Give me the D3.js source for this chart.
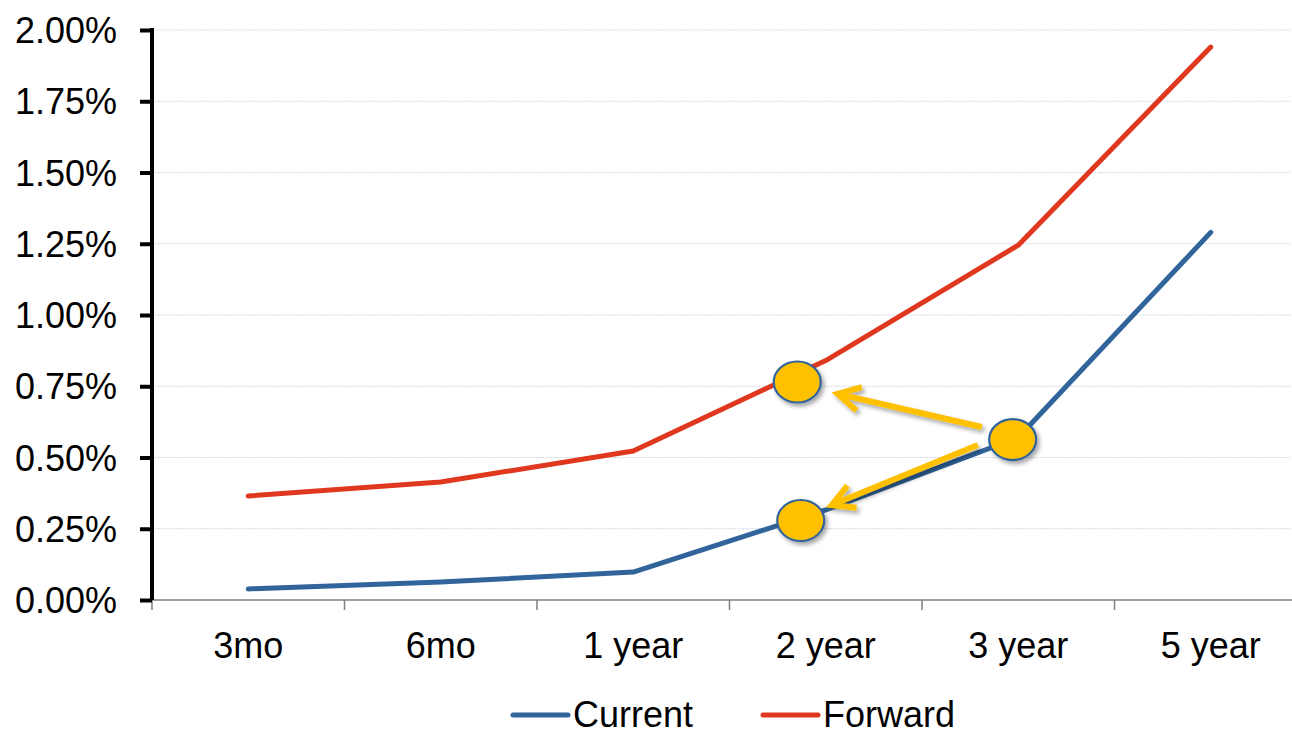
<!DOCTYPE html>
<html>
<head>
<meta charset="utf-8">
<script src="https://cdn.jsdelivr.net/npm/d3@7"></script>
<style>
  html, body { margin: 0; padding: 0; background: #fff; }
  svg { display: block; font-family: "Liberation Sans", Arial, sans-serif; }
</style>
</head>
<body>
<svg id="chart" width="1292" height="734"></svg>
<script>
// Yield curve: current vs forward rates by maturity (percent)
const maturities = ["3mo", "6mo", "1 year", "2 year", "3 year", "5 year"];
const currentRates = [0.039, 0.063, 0.098, 0.316, 0.57, 1.29];
const forwardRates = [0.365, 0.414, 0.523, 0.84, 1.245, 1.94];
const yTicks = [0, 0.25, 0.5, 0.75, 1.0, 1.25, 1.5, 1.75, 2.0];

// Highlight markers: maturity, offset in bands from its centre, rate
const markers = [
  { cat: "2 year", off: -0.148, v: 0.765 },
  { cat: "3 year", off: -0.029, v: 0.563 },
  { cat: "2 year", off: -0.13, v: 0.279 }
];
// Arrows pointing from the 3-year marker toward the 2-year markers
const arrows = [
  { from: { cat: "3 year", off: -0.19, v: 0.607 }, to: { cat: "2 year", off: 0.062, v: 0.723 } },
  { from: { cat: "3 year", off: -0.21, v: 0.544 }, to: { cat: "2 year", off: 0.031, v: 0.333 } }
];

const series = [
  { name: "Current", values: currentRates, color: "#30649b" },
  { name: "Forward", values: forwardRates, color: "#e0381e" }
];

(function draw() {
  const svg = d3.select("#chart");
  const plotLeft = 152, plotTop = 30, plotBottom = 600, bandW = 192.5;
  const fontSize = 36;

  const x = d3.scaleBand().domain(maturities).range([plotLeft, plotLeft + bandW * maturities.length]);
  const y = d3.scaleLinear().domain([0, 2]).range([plotBottom, plotTop]);
  const cx = (cat, off = 0) => x(cat) + x.bandwidth() * (0.5 + off);

  const defs = svg.append("defs");
  const shadow = defs.append("filter").attr("id", "shadow")
    .attr("x", "-30%").attr("y", "-30%").attr("width", "170%").attr("height", "170%");
  shadow.append("feDropShadow").attr("dx", 2.5).attr("dy", 3).attr("stdDeviation", 2)
    .attr("flood-color", "#000").attr("flood-opacity", 0.35);

  // Horizontal gridlines
  svg.append("g").selectAll("line").data(yTicks.filter(d => d > 0)).join("line")
    .attr("x1", plotLeft).attr("x2", 1292)
    .attr("y1", d => y(d)).attr("y2", d => y(d))
    .attr("stroke", "#d3dcea").attr("stroke-width", 1.2).attr("stroke-dasharray", "2,1");

  // X axis: baseline, category boundary ticks, labels
  const xg = svg.append("g").attr("transform", `translate(0,${plotBottom})`);
  xg.append("line").attr("x1", plotLeft).attr("x2", 1292).attr("y1", 0).attr("y2", 0)
    .attr("stroke", "#7f7f7f").attr("stroke-width", 1.5);
  xg.selectAll("line.tick").data(maturities).join("line").attr("class", "tick")
    .attr("x1", d => x(d)).attr("x2", d => x(d)).attr("y1", 0).attr("y2", 10)
    .attr("stroke", "#7f7f7f").attr("stroke-width", 1.5);
  xg.selectAll("text").data(maturities).join("text")
    .attr("x", d => cx(d)).attr("y", 58)
    .attr("text-anchor", "middle").attr("font-size", fontSize).attr("fill", "#000")
    .text(d => d);

  // Y axis
  const yAxis = d3.axisLeft(y).tickValues(yTicks).tickSize(12).tickPadding(23)
    .tickFormat(d => d3.format(".2f")(d) + "%");
  const yg = svg.append("g").attr("transform", `translate(${plotLeft},0)`).call(yAxis);
  yg.select(".domain").attr("d", `M0,${plotTop - 2}V${plotBottom}`).attr("stroke", "#000").attr("stroke-width", 4);
  yg.selectAll(".tick line").attr("stroke", "#000").attr("stroke-width", 4);
  yg.selectAll(".tick text").attr("font-size", fontSize).attr("fill", "#000")
    .attr("font-family", "Liberation Sans, Arial, sans-serif").attr("dy", "0.35em");

  // Rate lines
  const line = d3.line().x((d, i) => cx(maturities[i])).y(d => y(d));
  svg.append("g").selectAll("path").data(series).join("path")
    .attr("d", d => line(d.values))
    .attr("fill", "none").attr("stroke", d => d.color).attr("stroke-width", 5)
    .attr("stroke-linecap", "round").attr("stroke-linejoin", "round");

  // Arrows
  const arrowG = svg.append("g").attr("filter", "url(#shadow)");
  arrows.forEach(a => {
    const x0 = cx(a.from.cat, a.from.off), y0 = y(a.from.v);
    const x1 = cx(a.to.cat, a.to.off), y1 = y(a.to.v);
    const ang = Math.atan2(y0 - y1, x0 - x1);
    const len = 25, spread = 0.5;
    const p1 = [x1 + len * Math.cos(ang - spread), y1 + len * Math.sin(ang - spread)];
    const p2 = [x1 + len * Math.cos(ang + spread), y1 + len * Math.sin(ang + spread)];
    arrowG.append("path")
      .attr("d", `M${x0},${y0}L${x1},${y1}M${p1[0]},${p1[1]}L${x1},${y1}L${p2[0]},${p2[1]}`)
      .attr("fill", "none").attr("stroke", "#ffc000").attr("stroke-width", 6)
      .attr("stroke-linejoin", "miter").attr("stroke-linecap", "butt");
  });

  // Highlight markers
  svg.append("g").attr("filter", "url(#shadow)").selectAll("ellipse").data(markers).join("ellipse")
    .attr("cx", d => cx(d.cat, d.off)).attr("cy", d => y(d.v))
    .attr("rx", 23.5).attr("ry", 20.5)
    .attr("fill", "#ffc000").attr("stroke", "#30649b").attr("stroke-width", 2.2);

  // Legend
  const legend = svg.append("g");
  const legendItems = [
    { s: series[0], x0: 513 },
    { s: series[1], x0: 763 }
  ];
  legendItems.forEach(it => {
    legend.append("line").attr("x1", it.x0).attr("x2", it.x0 + 55).attr("y1", 715).attr("y2", 715)
      .attr("stroke", it.s.color).attr("stroke-width", 5).attr("stroke-linecap", "round");
    legend.append("text").attr("x", it.x0 + 60).attr("y", 727)
      .attr("font-size", fontSize).attr("fill", "#000").text(it.s.name);
  });
})();
</script>
</body>
</html>
